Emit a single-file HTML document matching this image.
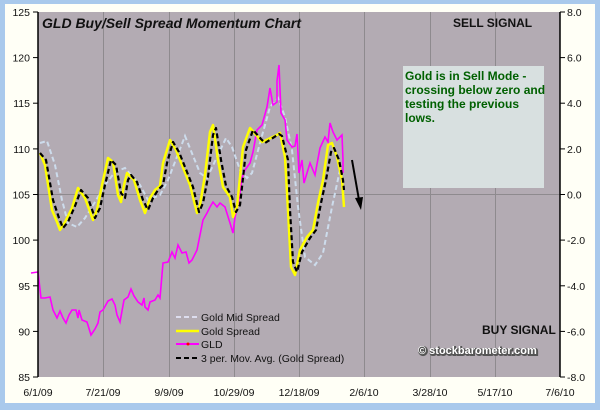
<!DOCTYPE html>
<html><head><meta charset="utf-8"><style>
body{margin:0;width:600px;height:410px;background:#a9c9ec;overflow:hidden}
svg{display:block}
text{font-family:"Liberation Sans",sans-serif}
</style></head><body>
<svg width="600" height="410" viewBox="0 0 600 410">
<rect x="0" y="0" width="600" height="410" fill="#a9c9ec"/>
<rect x="5" y="4" width="590" height="399" fill="#fffff6"/>
<rect x="38" y="12" width="522" height="365" fill="#b3abb3"/>
<g stroke="#8e8a8e" stroke-width="1">
<line x1="103.5" y1="12" x2="103.5" y2="377"/><line x1="169.5" y1="12" x2="169.5" y2="377"/>
<line x1="234.5" y1="12" x2="234.5" y2="377"/><line x1="299.5" y1="12" x2="299.5" y2="377"/>
<line x1="364.5" y1="12" x2="364.5" y2="377"/><line x1="430.5" y1="12" x2="430.5" y2="377"/>
<line x1="495.5" y1="12" x2="495.5" y2="377"/>
<line x1="38" y1="194.5" x2="560" y2="194.5"/>
</g>
<rect x="403" y="66" width="141" height="122" fill="#d8e0e0"/>
<g fill="#006000" font-weight="bold" font-size="12">
<text x="405" y="80">Gold is in Sell Mode -</text>
<text x="405" y="94">crossing below zero and</text>
<text x="405" y="108">testing the previous</text>
<text x="405" y="122">lows.</text>
</g>
<text x="453" y="27" font-size="12" font-weight="bold" fill="#111">SELL SIGNAL</text>
<text x="482" y="334" font-size="12" font-weight="bold" fill="#111">BUY SIGNAL</text>
<text x="419" y="355" font-size="11" font-weight="bold" fill="none" stroke="#555" stroke-width="2">© stockbarometer.com</text>
<text x="418" y="354" font-size="11" font-weight="bold" fill="#fff">© stockbarometer.com</text>
<text x="42" y="28" font-size="14" font-weight="bold" font-style="italic" fill="#111">GLD Buy/Sell Spread Momentum Chart</text>
<polyline fill="none" stroke="#cddcec" stroke-width="2" stroke-dasharray="5,3" points="40,143 47,141 55,165 62,200 68,223 77,227 85,218 95,202 105,185 115,172 125,168 140,185 148,200 160,195 168,180 185,136 200,173 207,178 217,157 226,138 232,147 240,170 247,178 252,173 260,143 270,107 278,98 285,117 292,150 298,207 305,257 315,265 323,253 332,207 340,170"/>
<polyline fill="none" stroke="#ff00ff" stroke-width="1.6" points="31,273 38,272 41,298 45,298 50,297 53,310 57,318 60,311 63,318 66,323 69,315 72,310 76,310 78,318 79,310 82,320 87,322 91,335 95,329 98,323 100,312 103,310 108,301 112,299 115,305 117,315 120,322 124,300 128,297 131,289 134,296 138,302 142,305 144,298 145,307 148,310 150,302 155,300 158,295 160,298 163,263 168,262 172,252 175,258 178,245 182,253 186,252 189,263 192,260 197,250 203,220 207,213 210,207 213,202 217,207 220,203 225,207 230,223 233,233 235,217 239,200 242,178 245,170 250,163 253,152 257,130 262,125 267,107 270,88 273,105 277,102 277,81 279,65 281,113 285,120 287,140 292,147 295,146 297,134 299,173 302,160 304,183 310,163 315,175 320,148 325,137 328,142 330,123 333,132 337,140 342,135 343,160 343,173"/>
<polyline fill="none" stroke="#ffff00" stroke-width="2.5" stroke-linejoin="round" points="40,153 45,165 52,210 57,222 60,230 65,222 72,208 78,188 85,198 93,220 97,210 102,185 108,158 113,162 118,195 121,202 124,185 127,173 134,180 140,200 145,213 150,198 155,190 160,186 163,163 170,140 176,150 182,165 190,185 197,213 200,205 205,175 210,132 213,125 218,160 223,187 230,197 233,217 237,207 240,177 243,147 250,128 258,137 262,142 277,135 280,133 285,157 288,210 291,267 295,275 300,250 307,237 313,230 318,203 323,180 328,145 332,143 337,157 342,180 344,207"/>
<polyline fill="none" stroke="#000" stroke-width="2.2" stroke-dasharray="5,3" stroke-linejoin="round" points="40,153 46,160 53,200 59,218 63,228 68,222 75,206 81,190 88,198 95,218 100,208 105,185 111,160 116,165 121,193 125,198 128,180 131,175 137,182 143,200 148,210 153,198 158,190 163,185 167,163 173,142 179,152 185,167 193,187 199,212 203,203 208,177 213,135 216,128 221,160 226,186 232,197 236,212 240,205 243,178 246,150 253,130 261,139 265,143 279,134 282,136 288,160 290,210 293,262 297,272 302,252 310,238 316,230 321,203 326,180 331,152 334,148 339,160 343,180 344,190"/>
<line x1="352" y1="160" x2="359" y2="200" stroke="#000" stroke-width="2"/>
<polygon points="355,198 363,197 361,210" fill="#000"/>
<g font-size="10.5" fill="#111">
<line x1="176" y1="317" x2="199" y2="317" stroke="#dde" stroke-width="2" stroke-dasharray="5,3"/>
<text x="201" y="321">Gold Mid Spread</text>
<line x1="176" y1="331" x2="199" y2="331" stroke="#ff0" stroke-width="2.5"/>
<text x="201" y="335">Gold  Spread</text>
<line x1="176" y1="344" x2="199" y2="344" stroke="#f0f" stroke-width="2"/><circle cx="188" cy="344" r="1.5" fill="red"/>
<text x="201" y="348">GLD</text>
<line x1="176" y1="358" x2="199" y2="358" stroke="#000" stroke-width="2" stroke-dasharray="5,3"/>
<text x="201" y="362">3 per. Mov. Avg. (Gold  Spread)</text>
</g>
<g stroke="#000" stroke-width="1.5"><line x1="38" y1="12" x2="38" y2="377"/><line x1="560" y1="12" x2="560" y2="377"/></g>
<g stroke="#000" stroke-width="1">
<line x1="33" y1="12" x2="38" y2="12"/><line x1="33" y1="57.6" x2="38" y2="57.6"/><line x1="33" y1="103.2" x2="38" y2="103.2"/><line x1="33" y1="148.9" x2="38" y2="148.9"/><line x1="33" y1="194.5" x2="38" y2="194.5"/><line x1="33" y1="240.1" x2="38" y2="240.1"/><line x1="33" y1="285.8" x2="38" y2="285.8"/><line x1="33" y1="331.4" x2="38" y2="331.4"/><line x1="33" y1="377" x2="38" y2="377"/>
<line x1="560" y1="12" x2="565" y2="12"/><line x1="560" y1="57.6" x2="565" y2="57.6"/><line x1="560" y1="103.2" x2="565" y2="103.2"/><line x1="560" y1="148.9" x2="565" y2="148.9"/><line x1="560" y1="194.5" x2="565" y2="194.5"/><line x1="560" y1="240.1" x2="565" y2="240.1"/><line x1="560" y1="285.8" x2="565" y2="285.8"/><line x1="560" y1="331.4" x2="565" y2="331.4"/><line x1="560" y1="377" x2="565" y2="377"/>
</g>
<g font-size="10.5" fill="#111" text-anchor="end">
<text x="30" y="16">125</text><text x="30" y="61.6">120</text><text x="30" y="107.2">115</text><text x="30" y="152.9">110</text><text x="30" y="198.5">105</text><text x="30" y="244.1">100</text><text x="30" y="289.8">95</text><text x="30" y="335.4">90</text><text x="30" y="381">85</text>
</g>
<g font-size="10.5" fill="#111">
<text x="567" y="16">8.0</text><text x="567" y="61.6">6.0</text><text x="567" y="107.2">4.0</text><text x="567" y="152.9">2.0</text><text x="567" y="198.5">0.0</text><text x="567" y="244.1">-2.0</text><text x="567" y="289.8">-4.0</text><text x="567" y="335.4">-6.0</text><text x="567" y="381">-8.0</text>
</g>
<g font-size="10.5" fill="#111" text-anchor="middle">
<text x="38" y="396">6/1/09</text><text x="103" y="396">7/21/09</text><text x="169" y="396">9/9/09</text><text x="234" y="396">10/29/09</text><text x="299" y="396">12/18/09</text><text x="364" y="396">2/6/10</text><text x="430" y="396">3/28/10</text><text x="495" y="396">5/17/10</text><text x="560" y="396">7/6/10</text>
</g>
</svg>
</body></html>
